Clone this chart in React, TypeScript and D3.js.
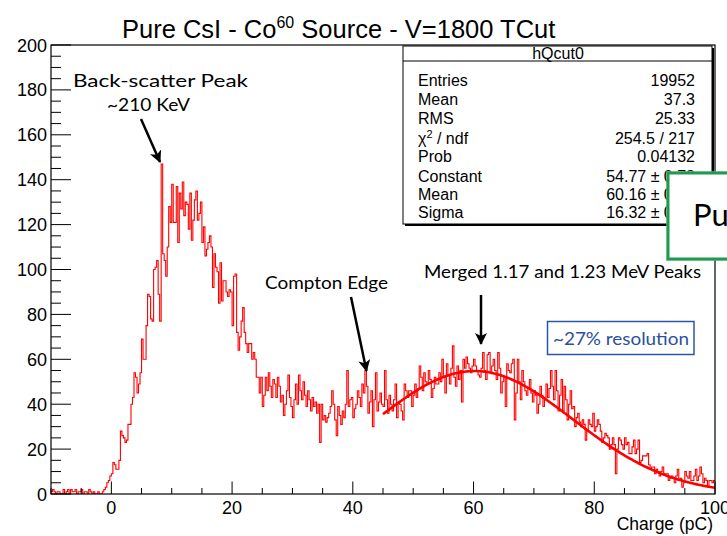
import React from 'react';
import * as d3 from 'd3';

// ---- data ----
const xDomain = [-10, 100];
const yDomain = [0, 200];
const binLow = -10;
const binWidth = 0.25;
// counts per 0.25 pC bin, from -10 to 100
const counts = [
  1, 2, 1, 0, 1, 1, 0, 0, 2, 0, 1, 2, 0, 2, 1, 1, 2, 0, 1, 1,
  2, 0, 1, 1, 0, 2, 1, 0, 1, 0, 0, 1, 0, 0, 1, 2, 3, 5, 6, 8,
  9, 14, 13, 11, 11, 15, 28, 26, 25, 23, 24, 31, 31, 40, 43, 54, 52, 45, 49, 54,
  69, 60, 60, 75, 89, 88, 78, 77, 100, 101, 104, 89, 77, 147, 107, 104, 97, 110, 128, 121,
  138, 121, 121, 137, 112, 134, 127, 139, 124, 130, 129, 118, 134, 113, 122, 131, 135, 122, 125, 130,
  112, 119, 106, 109, 112, 115, 110, 92, 107, 101, 99, 85, 103, 86, 95, 95, 90, 88, 91, 90,
  75, 97, 98, 72, 64, 70, 77, 83, 72, 67, 63, 67, 67, 60, 63, 60, 52, 52, 45, 52,
  39, 44, 52, 46, 54, 48, 43, 51, 49, 43, 52, 48, 41, 44, 35, 40, 46, 53, 43, 39,
  34, 42, 49, 40, 53, 46, 42, 50, 44, 39, 46, 42, 37, 43, 39, 41, 36, 40, 23, 40,
  33, 35, 32, 34, 36, 39, 46, 40, 33, 26, 39, 35, 31, 37, 34, 40, 55, 39, 42, 43,
  34, 38, 40, 46, 43, 39, 49, 45, 55, 48, 36, 41, 46, 30, 42, 54, 37, 41, 45, 40,
  39, 55, 42, 36, 44, 40, 37, 42, 49, 34, 41, 40, 37, 33, 49, 46, 43, 46, 46, 39,
  44, 49, 43, 47, 57, 52, 46, 54, 50, 49, 55, 51, 43, 47, 52, 49, 49, 54, 50, 60,
  52, 45, 58, 53, 49, 56, 66, 52, 48, 57, 51, 55, 41, 60, 56, 61, 58, 56, 54, 57,
  60, 57, 55, 53, 52, 56, 63, 55, 51, 62, 63, 54, 57, 60, 55, 51, 63, 56, 45, 50,
  52, 39, 58, 55, 54, 58, 60, 33, 45, 60, 50, 42, 55, 50, 46, 44, 47, 51, 45, 41,
  46, 44, 36, 40, 48, 44, 39, 42, 49, 43, 47, 55, 48, 42, 55, 46, 37, 44, 51, 37,
  48, 42, 33, 40, 46, 38, 39, 30, 34, 36, 32, 30, 33, 31, 24, 28, 33, 31, 30, 36,
  28, 30, 33, 31, 28, 23, 25, 27, 26, 25, 20, 22, 25, 22, 9, 20, 25, 24, 22, 20,
  25, 22, 23, 18, 18, 21, 24, 18, 20, 24, 14, 15, 17, 17, 17, 18, 13, 11, 12, 12,
  9, 11, 10, 8, 10, 12, 9, 9, 9, 6, 7, 8, 7, 5, 8, 11, 6, 7, 3, 5,
  10, 8, 7, 10, 6, 6, 8, 11, 6, 8, 12, 9, 5, 7, 6, 3, 6, 6, 5, 6,
];
// gaussian fit: constant, mean, sigma ; fit range
const fitParams = [54.77, 60.16, 16.32];
const fitRange = [45, 100];

const xTickValues = [0, 20, 40, 60, 80, 100];
const yTickValues = [0, 20, 40, 60, 80, 100, 120, 140, 160, 180, 200];

const statsTitle = 'hQcut0';
const statsLabels = ['Entries', 'Mean', 'RMS', 'CHI', 'Prob', 'Constant', 'Mean', 'Sigma'];
const statsValues = ['19952', '37.3', '25.33', '254.5 / 217', '0.04132', '54.77 ± 0.78', '60.16 ± 0.52', '16.32 ± 0.41'];

export default function App() {
  const W = 727, H = 536;
  const L = 51, R = 715, T = 45, B = 494;
  const x = d3.scaleLinear().domain(xDomain).range([L, R]);
  const y = d3.scaleLinear().domain(yDomain).range([B, T]);

  const pts: [number, number][] = counts.map((c, i) => [binLow + i * binWidth, c]);
  pts.push([binLow + counts.length * binWidth, counts[counts.length - 1]]);
  const histLine = d3.line<[number, number]>()
    .x(d => x(d[0])).y(d => y(d[1])).curve(d3.curveStepAfter);

  const [A, mu, sg] = fitParams;
  const fitPts: [number, number][] = d3.range(fitRange[0], fitRange[1] + 0.001, 0.25)
    .map(v => [v, A * Math.exp(-0.5 * ((v - mu) / sg) ** 2)]);
  const fitLine = d3.line<[number, number]>().x(d => x(d[0])).y(d => y(d[1])).curve(d3.curveMonotoneX);

  const xMinor = d3.range(xDomain[0], xDomain[1] + 0.001, 5);
  const yMinor = d3.range(yDomain[0], yDomain[1] + 0.001, 5);

  const sans = '"Liberation Sans", Arial, Helvetica, sans-serif';
  const gill = 'Lato, "Open Sans", sans-serif';
  const statsBase = [85.5, 104.5, 123.5, 143.5, 162, 181.5, 199.5, 217.5];

  return (
    <svg width={W} height={H} style={{ position: 'absolute', left: 0, top: 0, background: '#fff' }}
      fontFamily={sans}>
      <defs>
        <marker id="ah" viewBox="0 0 12 12" refX="11" refY="6" markerWidth="12" markerHeight="12"
          markerUnits="userSpaceOnUse" orient="auto">
          <path d="M0,0 L12,6 L0,12 L3,6 Z" fill="#000" />
        </marker>
        <clipPath id="plot"><rect x={L} y={T} width={R - L} height={B - T} /></clipPath>
      </defs>
      <rect x={0} y={0} width={W} height={H} fill="#fff" />

      {/* title */}
      <text x={122} y={38} fontSize={25.5} fill="#000">
        Pure CsI - Co<tspan dy={-10} fontSize={16}>60</tspan><tspan dy={10} fontSize={25.5}> Source - V=1800 TCut</tspan>
      </text>

      {/* histogram */}
      <g clipPath="url(#plot)">
        <path d={histLine(pts) || ''} fill="none" stroke="#ff0000" strokeWidth={1.1} />
        <path d={fitLine(fitPts) || ''} fill="none" stroke="#ff0000" strokeWidth={2.6} />
      </g>

      {/* frame */}
      <rect x={L} y={T} width={R - L} height={B - T} fill="none" stroke="#000" strokeWidth={1.2} />

      {/* x ticks */}
      {xMinor.map(v => {
        const major = v % 20 === 0;
        return <line key={'xm' + v} x1={x(v)} x2={x(v)} y1={B} y2={B - (major ? 12.5 : 6)} stroke="#000" strokeWidth={1} />;
      })}
      {xTickValues.map(v => (
        <text key={'xt' + v} x={x(v)} y={514} fontSize={18} textAnchor="middle" fill="#000">{v}</text>
      ))}
      <text x={713} y={530} fontSize={17.5} textAnchor="end" fill="#000">Charge (pC)</text>

      {/* y ticks */}
      {yMinor.map(v => {
        const major = v % 20 === 0;
        return <line key={'ym' + v} x1={L} x2={L + (major ? 20 : 10)} y1={y(v)} y2={y(v)} stroke="#000" strokeWidth={1} />;
      })}
      {yTickValues.map(v => (
        <text key={'yt' + v} x={47} y={y(v) + 6.5} fontSize={18} textAnchor="end" fill="#000">{v}</text>
      ))}

      {/* stats box */}
      <rect x={405} y={48} width={309} height={178} fill="#000" />
      <rect x={403} y={46} width={309} height={178} fill="#fff" stroke="#000" strokeWidth={1} />
      <line x1={403} x2={712} y1={61} y2={61} stroke="#000" strokeWidth={1} />
      <text x={558} y={58.5} fontSize={16} textAnchor="middle" fill="#000">{statsTitle}</text>
      {statsLabels.map((lab, i) => (
        <text key={'sl' + i} x={418} y={statsBase[i]} fontSize={16} fill="#000">
          {lab === 'CHI' ? (<>χ<tspan dy={-6} fontSize={11}>2</tspan><tspan dy={6} fontSize={16}> / ndf</tspan></>) : lab}
        </text>
      ))}
      {statsValues.map((val, i) => (
        <text key={'sv' + i} x={695} y={statsBase[i]} fontSize={16} textAnchor="end" fill="#000">{val}</text>
      ))}

      {/* green overlapping box */}
      <rect x={668} y={173} width={70} height={86} fill="#fff" stroke="#1f9a4e" strokeWidth={3} />
      <rect x={666.5} y={171.5} width={73} height={89} fill="none" stroke="#58b57a" strokeWidth={1} opacity={0.6} />
      <text x={693} y={226} fontSize={31} fontFamily={gill} fill="#000">Pu</text>

      {/* annotations */}
      <text x={73} y={87} fontSize={17} fontFamily={gill} fill="#000" textLength={175} lengthAdjust="spacingAndGlyphs">Back-scatter Peak</text>
      <text x={107} y={111} fontSize={17} fontFamily={gill} fill="#000" textLength={83} lengthAdjust="spacingAndGlyphs">~210 KeV</text>
      <line x1={141} y1={119} x2={160} y2={162} stroke="#000" strokeWidth={2.5} markerEnd="url(#ah)" />

      <text x={265} y={289} fontSize={17.5} fontFamily={gill} fill="#000" textLength={123} lengthAdjust="spacingAndGlyphs">Compton Edge</text>
      <line x1={351} y1={297} x2={366.5} y2={371} stroke="#000" strokeWidth={2.5} markerEnd="url(#ah)" />

      <text x={424} y={278} fontSize={17.5} fontFamily={gill} fill="#000" textLength={277} lengthAdjust="spacingAndGlyphs">Merged 1.17 and 1.23 MeV Peaks</text>
      <line x1={481} y1={295} x2={481} y2={344} stroke="#000" strokeWidth={2.5} markerEnd="url(#ah)" />

      <rect x={547.5} y={321.5} width={146.5} height={33} fill="#fff" stroke="#2b56a8" strokeWidth={1.5} />
      <text x={553} y={345} fontSize={18} fontFamily={gill} fill="#2b4f9e" textLength={136} lengthAdjust="spacingAndGlyphs">~27% resolution</text>
    </svg>
  );
}
